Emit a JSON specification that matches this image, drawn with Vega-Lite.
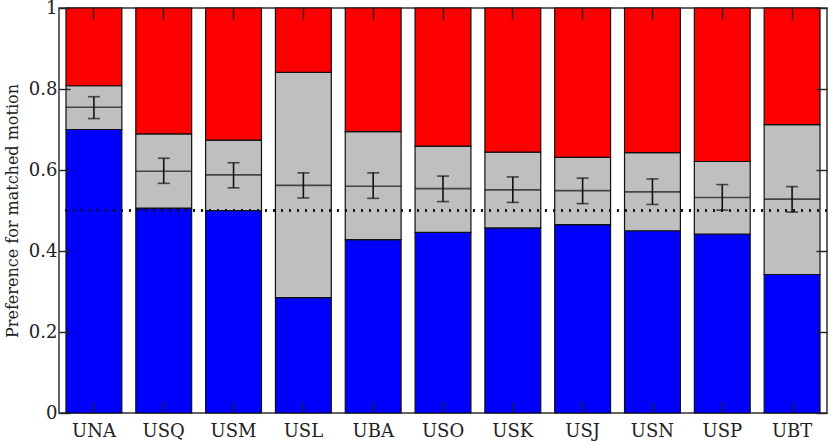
{
  "$schema": "https://vega.github.io/schema/vega-lite/v6.json",
  "autosize": {"type": "none"},
  "width": 768,
  "height": 405,
  "padding": {"left": 59, "top": 8, "right": 3, "bottom": 30},
  "config": {
    "font": "DejaVu Serif",
    "view": {"stroke": "#333333", "strokeWidth": 1.5},
    "axis": {
      "grid": false,
      "domain": false,
      "ticks": true,
      "tickColor": "#222222",
      "tickWidth": 1.4,
      "tickSize": 11,
      "offset": -11,
      "labelFont": "DejaVu Serif",
      "labelFontSize": 18,
      "labelColor": "#222222",
      "titleFont": "DejaVu Serif",
      "titleFontSize": 16,
      "titleFontWeight": "normal",
      "titleColor": "#222222"
    }
  },
  "data": {
    "values": [
      {"cond": "UNA", "blue": 0.700, "gray": 0.808, "mean": 0.755, "lo": 0.727, "hi": 0.781},
      {"cond": "USQ", "blue": 0.506, "gray": 0.689, "mean": 0.597, "lo": 0.567, "hi": 0.629},
      {"cond": "USM", "blue": 0.500, "gray": 0.674, "mean": 0.588, "lo": 0.556, "hi": 0.618},
      {"cond": "USL", "blue": 0.285, "gray": 0.841, "mean": 0.562, "lo": 0.531, "hi": 0.593},
      {"cond": "UBA", "blue": 0.428, "gray": 0.695, "mean": 0.560, "lo": 0.530, "hi": 0.593},
      {"cond": "USO", "blue": 0.446, "gray": 0.659, "mean": 0.554, "lo": 0.522, "hi": 0.585},
      {"cond": "USK", "blue": 0.457, "gray": 0.644, "mean": 0.551, "lo": 0.520, "hi": 0.583},
      {"cond": "USJ", "blue": 0.465, "gray": 0.631, "mean": 0.549, "lo": 0.517, "hi": 0.580},
      {"cond": "USN", "blue": 0.450, "gray": 0.643, "mean": 0.546, "lo": 0.515, "hi": 0.578},
      {"cond": "USP", "blue": 0.442, "gray": 0.621, "mean": 0.532, "lo": 0.501, "hi": 0.564},
      {"cond": "UBT", "blue": 0.342, "gray": 0.712, "mean": 0.528, "lo": 0.496, "hi": 0.559}
    ]
  },
  "encoding": {
    "x": {
      "field": "cond",
      "type": "nominal",
      "sort": null,
      "axis": null,
      "scale": {"paddingInner": 0.2, "paddingOuter": 0.1}
    }
  },
  "layer": [
    {
      "mark": {"type": "bar", "color": "#0000ff", "stroke": "#111111", "strokeWidth": 1.2},
      "encoding": {
        "x": {"field": "cond", "type": "nominal", "sort": null, "axis": {"orient": "bottom", "title": null, "labelAngle": 0, "labelPadding": 9, "zindex": 2}},
        "y": {
          "field": "blue", "type": "quantitative",
          "scale": {"domain": [0, 1], "nice": false},
          "axis": {"orient": "left", "values": [0, 0.2, 0.4, 0.6, 0.8, 1], "format": "~g", "title": "Preference for matched motion", "labelPadding": 2, "titlePadding": 8, "zindex": 2}
        },
        "y2": {"datum": 0}
      }
    },
    {
      "mark": {"type": "bar", "color": "#bfbfbf", "stroke": "#111111", "strokeWidth": 1.2},
      "encoding": {
        "x": {"field": "cond", "type": "nominal", "sort": null, "axis": {"orient": "top", "title": null, "labels": false, "zindex": 2}},
        "y": {"field": "blue", "type": "quantitative", "axis": {"orient": "right", "values": [0, 0.2, 0.4, 0.6, 0.8, 1], "labels": false, "title": null, "zindex": 2}},
        "y2": {"field": "gray"}
      }
    },
    {
      "mark": {"type": "bar", "color": "#ff0000", "stroke": "#111111", "strokeWidth": 1.2},
      "encoding": {
        "y": {"field": "gray", "type": "quantitative", "axis": null},
        "y2": {"datum": 1}
      }
    },
    {
      "mark": {"type": "rule", "color": "#111111", "strokeWidth": 1.5, "strokeDash": [2, 6]},
      "encoding": {"y": {"datum": 0.5, "type": "quantitative", "axis": null}, "x": null}
    },
    {
      "mark": {"type": "tick", "color": "#111111", "size": 56, "thickness": 1.6},
      "encoding": {"y": {"field": "mean", "type": "quantitative", "axis": null}}
    },
    {
      "mark": {"type": "rule", "color": "#111111", "strokeWidth": 1.6},
      "encoding": {"y": {"field": "lo", "type": "quantitative", "axis": null}, "y2": {"field": "hi"}}
    },
    {
      "mark": {"type": "tick", "color": "#111111", "size": 12, "thickness": 1.6},
      "encoding": {"y": {"field": "lo", "type": "quantitative", "axis": null}}
    },
    {
      "mark": {"type": "tick", "color": "#111111", "size": 12, "thickness": 1.6},
      "encoding": {"y": {"field": "hi", "type": "quantitative", "axis": null}}
    }
  ]
}
